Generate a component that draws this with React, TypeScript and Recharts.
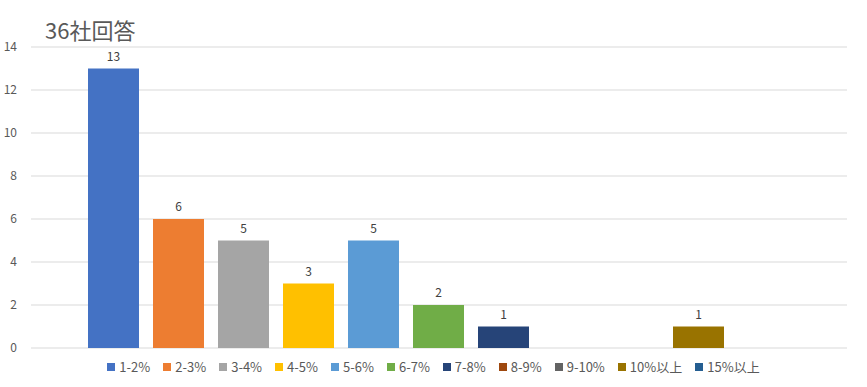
import { BarChart, Bar, XAxis, YAxis, CartesianGrid, LabelList, Legend } from 'recharts'

const categories = ['1-2%', '2-3%', '3-4%', '4-5%', '5-6%', '6-7%', '7-8%', '8-9%', '9-10%', '10%以上', '15%以上']
const counts: (number | null)[] = [13, 6, 5, 3, 5, 2, 1, null, null, 1, null]
const yTicks = [0, 2, 4, 6, 8, 10, 12, 14]
const title = '36社回答'

const colors = ['#4472C4', '#ED7D31', '#A5A5A5', '#FFC000', '#5B9BD5', '#70AD47', '#264478', '#9E480E', '#636363', '#997300', '#255E91']

const FONT = '"Noto Sans CJK JP", "Noto Sans", sans-serif'

// one row, one key per range: every range is its own series, like the excel chart
const row: Record<string, string | number | null> = { name: 'all' }
categories.forEach((c, i) => {
  row[c] = counts[i]
})
const data = [row]

function renderLabel(props: any) {
  const { x, y, width, value } = props
  if (value == null) return null
  return (
    <text x={x + width / 2} y={y - 8} textAnchor="middle" fontSize={12} fill="#404040" fontFamily={FONT}>
      {value}
    </text>
  )
}

function LegendContent() {
  return (
    <div style={{ display: 'flex', justifyContent: 'center', fontFamily: FONT, fontSize: 13, color: '#595959' }}>
      {categories.map((c, i) => (
        <span key={c} style={{ display: 'inline-flex', alignItems: 'center', marginRight: i < categories.length - 1 ? 13 : 0 }}>
          <span style={{ width: 8, height: 8, background: colors[i], display: 'inline-block', marginRight: 4 }} />
          {c}
        </span>
      ))}
    </div>
  )
}

export default function App() {
  return (
    <div style={{ position: 'absolute', left: 0, top: 0, width: 867, height: 387, background: '#fff' }}>
      <div
        style={{
          position: 'absolute',
          left: 45,
          top: 14,
          fontFamily: FONT,
          fontSize: 22,
          color: '#595959',
          lineHeight: '30px',
          zIndex: 1,
        }}
      >
        {title}
      </div>
      <BarChart
        width={867}
        height={387}
        data={data}
        margin={{ top: 47, right: 20, bottom: 39, left: 0 }}
        barCategoryGap={57}
        barGap={14}
      >
        <CartesianGrid vertical={false} stroke="#D9D9D9" />
        <XAxis dataKey="name" tick={false} tickLine={false} axisLine={{ stroke: '#D9D9D9' }} height={0} />
        <YAxis
          domain={[0, 14]}
          ticks={yTicks}
          width={31}
          axisLine={false}
          tickLine={false}
          tickMargin={8}
          tick={{ fontSize: 12, fill: '#595959', fontFamily: FONT }}
        />
        <Legend
          layout="horizontal"
          verticalAlign="middle"
          align="center"
          wrapperStyle={{ top: 357, left: 0, width: 867 }}
          content={<LegendContent />}
        />
        {categories.map((c, i) => (
          <Bar key={c} dataKey={c} fill={colors[i]} isAnimationActive={false}>
            <LabelList dataKey={c} content={renderLabel} />
          </Bar>
        ))}
      </BarChart>
    </div>
  )
}
